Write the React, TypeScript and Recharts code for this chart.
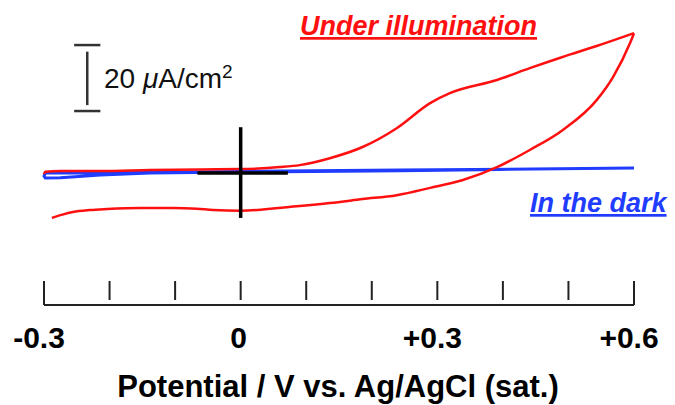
import React from "react";
import { LineChart, Line, XAxis, YAxis, ReferenceLine } from "recharts";

// potential (V vs Ag/AgCl) and current density (µA/cm²)
const litForwardV = [-0.3, -0.298, -0.275, -0.214, -0.138, -0.062, -0.001, 0.06, 0.09, 0.136, 0.186, 0.238, 0.289, 0.319, 0.391, 0.441, 0.491, 0.543, 0.6];
const litForwardI = [-0.3, 0.4, 0.6, 0.6, 0.9, 1.1, 1.2, 1.8, 2.4, 4.5, 7.9, 13.6, 21.2, 24.2, 28.2, 31.8, 35.2, 38.5, 42.4];

// return scan, listed from the left end up to the turning point
const litReverseV = [-0.288, -0.272, -0.256, -0.23, -0.204, -0.153, -0.103, -0.067, -0.042, -0.001, 0.09, 0.136, 0.186, 0.238, 0.289, 0.339, 0.391, 0.441, 0.491, 0.543, 0.568, 0.594, 0.6];
const litReverseI = [-13.6, -12.6, -11.8, -11.2, -10.9, -10.6, -10.6, -10.8, -11.2, -11.4, -10.0, -9.1, -7.9, -6.7, -4.5, -2.1, 1.8, 7.0, 13.0, 22.1, 29.1, 39.4, 42.4];

const darkV = [0.6, 0.395, 0.243, -0.001, -0.138, -0.214, -0.275, -0.298, -0.3, -0.298, -0.214, -0.138, -0.001, 0.243, 0.6];
const darkI = [1.5, 1.1, 0.7, 0.3, 0, -0.6, -1.4, -1.5, -0.9, 0, 0.1, 0.2, 0.5, 0.9, 1.5];

const potentialTicks = [-0.3, -0.2, -0.1, 0, 0.1, 0.2, 0.3, 0.4, 0.5, 0.6];
const tickLabels = ["-0.3", "", "", "0", "", "", "+0.3", "", "", "+0.6"];

// 20 µA/cm² scale bar and the origin cross
const scaleBarV = -0.234;
const scaleBarHalfWidth = 0.02;
const scaleBarBottom = 18.8;
const scaleBarTop = 38.8;
const crossI = [-13.6, 13.9];
const crossV = [-0.066, 0.072];

const zip = (vs: number[], is: number[]) => vs.map((v, k) => ({ v, i: is[k] }));
const litForward = zip(litForwardV, litForwardI);
const litReverse = zip(litReverseV, litReverseI);
const dark = zip(darkV, darkI);

const FONT = "'Liberation Sans', Arial, sans-serif";
const RED = "#ff1010";
const BLUE = "#1f3cff";

function PotentialTick(props: any) {
  const { x, y, index } = props;
  const end = index === 0 || index === potentialTicks.length - 1;
  const label = tickLabels[index];
  return (
    <g>
      <line x1={x} x2={x} y1={y - 24} y2={end ? y : y - 5} stroke="#222" strokeWidth={2} />
      {label && (
        <text x={x - (label === "0" ? 2 : 5)} y={y + 43} textAnchor="middle" fontFamily={FONT} fontWeight="bold" fontSize={30} fill="#000">
          {label}
        </text>
      )}
    </g>
  );
}

export default function App() {
  return (
    <div style={{ position: "absolute", left: 0, top: 0, width: 675, height: 405, background: "#fff" }}>
      <LineChart width={675} height={405} margin={{ top: 20, right: 41, bottom: 40, left: 44 }}>
        <XAxis
          type="number"
          dataKey="v"
          domain={[-0.3, 0.6]}
          ticks={potentialTicks}
          interval={0}
          tickSize={0}
          tickMargin={0}
          tickLine={false}
          axisLine={{ stroke: "#222", strokeWidth: 2 }}
          tick={<PotentialTick />}
          height={60}
        />
        <YAxis type="number" dataKey="i" domain={[-40, 46.4]} hide />
        <Line data={dark} dataKey="i" type="linear" stroke={BLUE} strokeWidth={3} dot={false} isAnimationActive={false} />
        <Line data={litForward} dataKey="i" type="monotone" stroke={RED} strokeWidth={2.5} dot={false} isAnimationActive={false} />
        <Line data={litReverse} dataKey="i" type="monotone" stroke={RED} strokeWidth={2.5} dot={false} isAnimationActive={false} />
        <ReferenceLine segment={[{ x: 0, y: crossI[0] }, { x: 0, y: crossI[1] }]} stroke="#000" strokeWidth={3.5} />
        <ReferenceLine segment={[{ x: crossV[0], y: 0 }, { x: crossV[1], y: 0 }]} stroke="#000" strokeWidth={3.5} />
        <ReferenceLine segment={[{ x: scaleBarV - scaleBarHalfWidth, y: scaleBarTop }, { x: scaleBarV + scaleBarHalfWidth, y: scaleBarTop }]} stroke="#333" strokeWidth={2.5} />
        <ReferenceLine segment={[{ x: scaleBarV - scaleBarHalfWidth, y: scaleBarBottom }, { x: scaleBarV + scaleBarHalfWidth, y: scaleBarBottom }]} stroke="#333" strokeWidth={2.5} />
        <ReferenceLine segment={[{ x: scaleBarV, y: scaleBarBottom + 1.8 }, { x: scaleBarV, y: scaleBarTop - 2 }]} stroke="#333" strokeWidth={2.5} />
      </LineChart>
      <svg width={675} height={405} style={{ position: "absolute", left: 0, top: 0, pointerEvents: "none" }}>
        <text x={300} y={35} fontFamily={FONT} fontWeight="bold" fontStyle="italic" fontSize={27} fill={RED} textDecoration="underline">
          Under illumination
        </text>
        <text x={530} y={212} fontFamily={FONT} fontWeight="bold" fontStyle="italic" fontSize={27} fill={BLUE} textDecoration="underline">
          In the dark
        </text>
        <text x={104} y={88} fontFamily={FONT} fontSize={28} fill="#111">
          20 <tspan fontStyle="italic">μ</tspan>A/cm
          <tspan fontSize={19} dy={-10}>2</tspan>
        </text>
        <text x={338} y={397} textAnchor="middle" fontFamily={FONT} fontWeight="bold" fontSize={31} fill="#000">
          Potential / V vs. Ag/AgCl (sat.)
        </text>
      </svg>
    </div>
  );
}
